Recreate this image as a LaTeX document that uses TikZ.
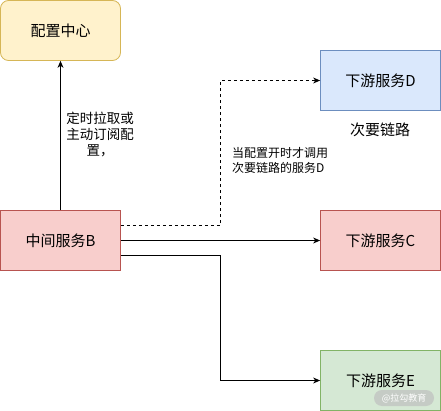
\documentclass[tikz,border=0pt]{standalone}
\usepackage{fontspec}
\setmainfont{Noto Sans CJK SC}
\usetikzlibrary{arrows.meta}
\definecolor{yfill}{HTML}{FFF2CC}\definecolor{ydraw}{HTML}{D6B656}
\definecolor{rfill}{HTML}{F8CECC}\definecolor{rdraw}{HTML}{B85450}
\definecolor{bfill}{HTML}{DAE8FC}\definecolor{bdraw}{HTML}{6C8EBF}
\definecolor{gfill}{HTML}{D5E8D4}\definecolor{gdraw}{HTML}{82B366}
\begin{document}
\begin{tikzpicture}[x=1pt,y=-1pt,
  box/.style={draw, line width=0.8pt, minimum width=120pt, minimum height=60pt, inner sep=0pt, font=\fontsize{15}{18}\selectfont},
  conn/.style={line width=0.8pt, -{Stealth[length=7pt,width=6pt]}},
  lbl/.style={font=\fontsize{13.5}{16}\selectfont, align=center, inner sep=0pt},
  note/.style={font=\fontsize{12}{15}\selectfont, align=left, inner sep=0pt}]
\useasboundingbox (0,0) rectangle (441,411);
\node[box, rounded corners=8pt, fill=yfill, draw=ydraw] (cfg) at (60.5,30.5) {配置中心};
\node[box, fill=rfill, draw=rdraw] (b) at (60.5,240.5) {中间服务B};
\node[box, fill=bfill, draw=bdraw] (d) at (380.5,80.5) {下游服务D};
\node[box, fill=rfill, draw=rdraw] (c) at (380.5,240.5) {下游服务C};
\node[box, fill=gfill, draw=gdraw] (e) at (380.5,380.5) {下游服务E};
\draw[conn] (b.north) -- (cfg.south);
\draw[conn, dashed] ([yshift=15pt]b.east) -- (220.5,225.5) -- (220.5,80.5) -- (d.west);
\draw[conn] (b.east) -- (c.west);
\draw[conn] ([yshift=-15pt]b.east) -- (220.5,255.5) -- (220.5,380.5) -- (e.west);
\node[lbl] (l1) at (100,135) {定时拉取或\\主动订阅配\\置，};
\node[note, anchor=west] (l2) at (232,160) {当配置开时才调用\\次要链路的服务D};
\node[font=\fontsize{15}{18}\selectfont, inner sep=0pt] (l3) at (380,130) {次要链路};
\node[fill=black!25, fill opacity=0.7, text opacity=1, text=white, rounded corners=8pt, minimum width=60pt, minimum height=16pt, inner sep=0pt, font=\fontsize{9}{10}\selectfont] (wm) at (404,398) {@拉勾教育};
\end{tikzpicture}
\end{document}
